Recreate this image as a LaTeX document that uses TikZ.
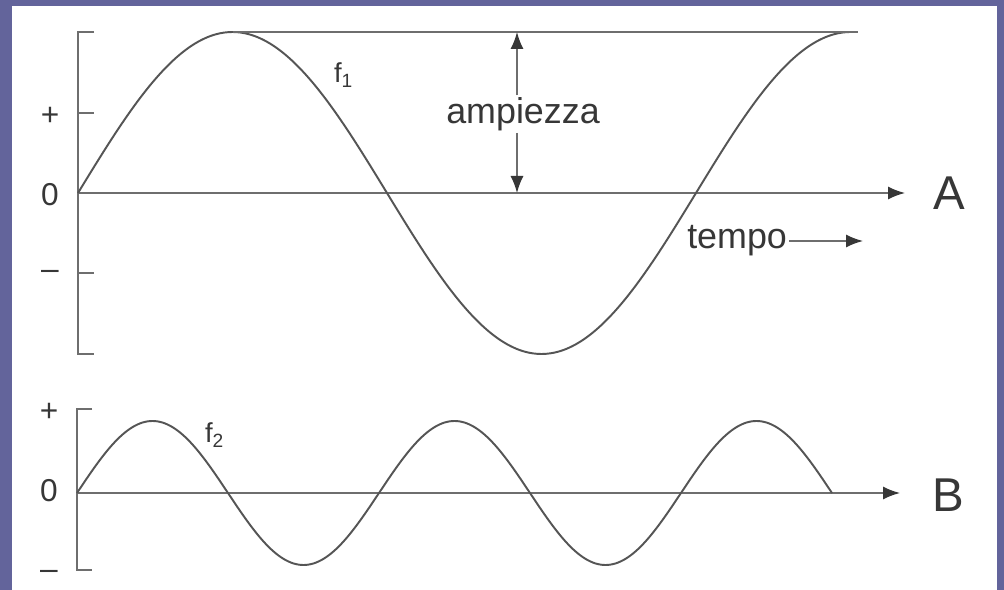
\documentclass[tikz,border=0pt]{standalone}
\usepackage{fontspec}
\setmainfont{Liberation Sans}
\usetikzlibrary{arrows.meta}
\definecolor{frame}{RGB}{99,100,155}
\definecolor{ink}{RGB}{85,85,85}
\definecolor{txt}{RGB}{55,55,55}

\begin{document}
\begin{tikzpicture}[every node/.style={text=txt,inner sep=1pt},
  wave/.style={ink,line width=1.1pt},
  axis/.style={ink!85,line width=0.8pt},
  arr/.style={axis,-{Latex[length=3.4mm,width=2.6mm,color=txt]}},
  lab/.style={font=\fontsize{20.4}{24}\selectfont},
  big/.style={font=\fontsize{27}{32}\selectfont},
  sign/.style={font=\fontsize{18}{20}\selectfont},
  fname/.style={font=\fontsize{15.6}{18}\selectfont,anchor=base west}]
  \fill[frame] (0,0) rectangle (20.08,11.8);
  \fill[white] (0.24,0) rectangle (19.94,11.68);
  % graph A
  \coordinate (oA) at (1.56,7.94);
  \coordinate (endA) at (18.1,7.94);
  \draw[axis] (1.88,11.16) -- (1.56,11.16) -- (1.56,4.72) -- (1.88,4.72);
  \foreach \y in {9.54,6.34} \draw[axis] (1.56,\y) -- (1.88,\y);
  \draw[arr] (oA) -- (endA);
  \node[big] (labA) at (18.98,7.94) {A};
  \foreach \y/\s/\n in {9.48/+/pA,7.9/0/zA,6.3/\textendash/mA} \node[sign] (\n) at (1.0,\y) {\s};
  \draw[wave,domain=0:450,samples=181,smooth] plot ({1.56+\x/360*12.36},{7.94+3.22*sin(\x)});
  \node[fname] (f1) at (6.64,10.14) {f\textsubscript{1}};
  \coordinate (peakA) at (4.65,11.16);
  \coordinate (topend) at (17.15,11.16);
  \draw[axis] (peakA) -- (topend);
  \node[lab] (amp) at (10.46,9.52) {ampiezza};
  \coordinate (amptop) at (10.34,11.16);
  \coordinate (ampbot) at (10.34,7.94);
  \draw[arr] (amp.north -| amptop) -- (amptop);
  \draw[arr] (amp.south -| ampbot) -- (ampbot);
  \node[lab,anchor=east] (tempo) at (15.78,6.98) {tempo};
  \coordinate (tempoend) at (17.26,6.98);
  \draw[arr] (tempo.east) -- (tempoend);
  % graph B
  \coordinate (oB) at (1.54,1.94);
  \coordinate (endB) at (18.0,1.94);
  \draw[axis] (1.84,3.62) -- (1.54,3.62) -- (1.54,0.40) -- (1.84,0.40);
  \draw[arr] (oB) -- (endB);
  \node[big] (labB) at (18.96,1.9) {B};
  \foreach \y/\s/\n in {3.56/+/pB,1.98/0/zB,0.3/\textendash/mB} \node[sign] (\n) at (0.98,\y) {\s};
  \draw[wave,domain=0:900,samples=301,smooth] plot ({1.54+\x/360*6.04},{1.94+1.44*sin(\x)});
  \node[fname] (f2) at (4.06,2.94) {f\textsubscript{2}};
\end{tikzpicture}
\end{document}
